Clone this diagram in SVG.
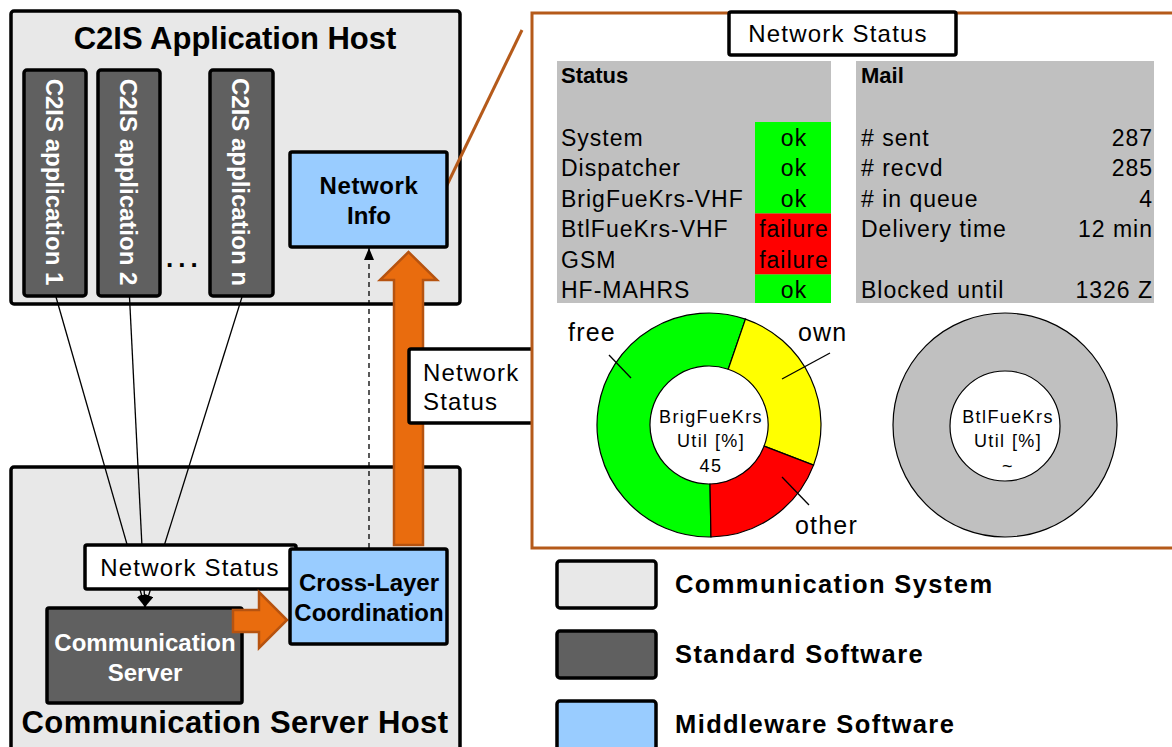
<svg xmlns="http://www.w3.org/2000/svg" width="1172" height="747" viewBox="0 0 1172 747">
  <style>
    text { font-family: "Liberation Sans", Arial, sans-serif; fill: #000; }
    .host { fill: #E8E8E8; stroke: #000; stroke-width: 3.5; }
    .std { fill: #606060; stroke: #000; stroke-width: 3.5; }
    .mid { fill: #99CCFF; stroke: #000; stroke-width: 3.5; }
    .note { fill: #FFFFFF; stroke: #000; stroke-width: 3.5; }
    .hostTitle { font-size: 31px; font-weight: bold; text-anchor: middle; }
    .appLabel { font-size: 24px; font-weight: bold; fill: #FFFFFF; text-anchor: middle; }
    .boxLabel { font-size: 24px; font-weight: bold; text-anchor: middle; }
    .boxLabelW { font-size: 24px; font-weight: bold; text-anchor: middle; fill: #FFFFFF; }
    .noteText { font-size: 24px; letter-spacing: 1.2px; }
    .cell { font-size: 23px; letter-spacing: 1px; }
    .cellHead { font-size: 22px; font-weight: bold; }
    .chartLbl { font-size: 25px; letter-spacing: 1.2px; }
    .hub { font-size: 18px; letter-spacing: 1.4px; text-anchor: middle; }
    .legend { font-size: 25.5px; font-weight: bold; letter-spacing: 1.4px; }
    .bigArrow { fill: #E96C0E; stroke: #B65310; stroke-width: 2.5; }
    .seg { stroke: #000; stroke-width: 1.2; }
    .leader { stroke: #000; stroke-width: 1.3; fill: none; }
  </style>
  <defs>
    <marker id="tri" viewBox="0 0 12 10" refX="12" refY="5" markerWidth="12" markerHeight="10" markerUnits="userSpaceOnUse" orient="auto">
      <path d="M0,0 L12,5 L0,10 Z" fill="#000"/>
    </marker>
  </defs>

  <!-- host frames -->
  <g id="appHost">
    <rect class="host" x="11" y="11" width="449" height="293" rx="3"/>
    <text class="hostTitle" x="235" y="49">C2IS Application Host</text>
  </g>
  <g id="serverHost">
    <rect class="host" x="11" y="467" width="449" height="290" rx="3"/>
    <text class="hostTitle" x="235" y="733" style="letter-spacing:0.4px">Communication Server Host</text>
  </g>

  <!-- application columns -->
  <g id="app1">
    <rect class="std" x="24" y="70" width="62" height="226" rx="3"/>
    <text class="appLabel" transform="translate(46,182) rotate(90)">C2IS application 1</text>
  </g>
  <g id="app2">
    <rect class="std" x="98" y="70" width="62" height="226" rx="3"/>
    <text class="appLabel" transform="translate(120,182) rotate(90)">C2IS application 2</text>
  </g>
  <g id="ellipsis">
    <text x="166" y="267" style="font-size:26px;font-weight:bold;letter-spacing:5px">...</text>
  </g>
  <g id="appN">
    <rect class="std" x="210" y="70" width="63" height="226" rx="3"/>
    <text class="appLabel" transform="translate(232,182) rotate(90)">C2IS application n</text>
  </g>

  <!-- connectors -->
  <g id="connectors">
    <line class="leader" x1="56" y1="297" x2="145" y2="607" marker-end="url(#tri)"/>
    <line class="leader" x1="129.5" y1="297" x2="145" y2="607" marker-end="url(#tri)"/>
    <line class="leader" x1="242" y1="297" x2="145" y2="607" marker-end="url(#tri)"/>
    <line x1="369" y1="548" x2="369" y2="248" stroke="#000" stroke-width="1.3" stroke-dasharray="5,4" marker-end="url(#tri)"/>
    <!-- wide status flow, cross-layer up to network info -->
    <path class="bigArrow" d="M394,545 L394,280 L380,280 L408.5,252 L437,280 L423,280 L423,545 Z"/>
    <!-- callout leader from network info to the status panel -->
    <line x1="433" y1="214" x2="522" y2="30" stroke="#B55A1A" stroke-width="3"/>
  </g>

  <g id="networkInfo">
    <rect class="mid" x="290" y="152" width="157" height="95" rx="2"/>
    <text class="boxLabel" x="369" y="194" style="letter-spacing:0.6px">Network</text>
    <text class="boxLabel" x="369" y="224">Info</text>
  </g>

  <g id="statusNoteMid">
    <rect class="note" x="409" y="349" width="124" height="74" rx="2"/>
    <text class="noteText" x="423" y="381">Network</text>
    <text class="noteText" x="423" y="410">Status</text>
  </g>

  <g id="statusNoteLow">
    <rect class="note" x="85" y="545" width="211" height="44" rx="2"/>
    <text class="noteText" x="190" y="576" text-anchor="middle">Network Status</text>
  </g>

  <g id="commServer">
    <rect class="std" x="47" y="608" width="195" height="95" rx="2"/>
    <text class="boxLabelW" x="145" y="651">Communication</text>
    <text class="boxLabelW" x="145" y="681">Server</text>
  </g>

  <!-- server hands its status on to the cross-layer block -->
  <g id="serverArrow">
    <path class="bigArrow" d="M233,610 L259,610 L259,592 L287,620 L259,648 L259,632 L233,632 Z"/>
  </g>

  <g id="crossLayer">
    <rect class="mid" x="290" y="549" width="157" height="95" rx="2"/>
    <text class="boxLabel" x="369" y="591">Cross-Layer</text>
    <text class="boxLabel" x="369" y="621">Coordination</text>
  </g>

  <!-- status panel -->
  <g id="statusPanel">
    <rect x="532" y="13" width="660" height="535" fill="#FFFFFF" stroke="#B55A1A" stroke-width="3"/>

    <rect x="557" y="61" width="274" height="242" fill="#C0C0C0"/>
    <rect x="755" y="122" width="76" height="91.5" fill="#00FF00"/>
    <rect x="755" y="213.5" width="76" height="61" fill="#FF0000"/>
    <rect x="755" y="274.5" width="76" height="28.5" fill="#00FF00"/>
    <text class="cellHead" x="561" y="83">Status</text>
    <text class="cell" x="561" y="145.5">System</text>
    <text class="cell" x="561" y="176">Dispatcher</text>
    <text class="cell" x="561" y="206.5">BrigFueKrs-VHF</text>
    <text class="cell" x="561" y="237">BtlFueKrs-VHF</text>
    <text class="cell" x="561" y="267.5">GSM</text>
    <text class="cell" x="561" y="298">HF-MAHRS</text>
    <g text-anchor="middle">
      <text class="cell" x="794" y="145.5">ok</text>
      <text class="cell" x="794" y="176">ok</text>
      <text class="cell" x="794" y="206.5">ok</text>
      <text class="cell" x="794" y="237">failure</text>
      <text class="cell" x="794" y="267.5">failure</text>
      <text class="cell" x="794" y="298">ok</text>
    </g>

    <rect x="856" y="61" width="298" height="242" fill="#C0C0C0"/>
    <text class="cellHead" x="861" y="83">Mail</text>
    <text class="cell" x="861" y="145.5"># sent</text>
    <text class="cell" x="861" y="176"># recvd</text>
    <text class="cell" x="861" y="206.5"># in queue</text>
    <text class="cell" x="861" y="237">Delivery time</text>
    <text class="cell" x="861" y="298">Blocked until</text>
    <g text-anchor="end">
      <text class="cell" x="1153" y="145.5">287</text>
      <text class="cell" x="1153" y="176">285</text>
      <text class="cell" x="1153" y="206.5">4</text>
      <text class="cell" x="1153" y="237">12 min</text>
      <text class="cell" x="1153" y="298">1326 Z</text>
    </g>
  </g>

  <g id="statusTitle">
    <rect class="note" x="729" y="12" width="227" height="43" rx="2"/>
    <text class="noteText" x="838" y="42" text-anchor="middle">Network Status</text>
  </g>

  <!-- utilisation ring, BrigFueKrs -->
  <g id="ringBrig">
    <path class="seg" fill="#00FF00" d="M710.95,536.98 A112,112 0 1 1 745.46,319.10 L728.21,369.22 A59,59 0 1 0 710.03,483.99 Z"/>
    <path class="seg" fill="#FFFF00" d="M745.46,319.10 A112,112 0 0 1 813.56,465.14 L764.08,446.15 A59,59 0 0 0 728.21,369.22 Z"/>
    <path class="seg" fill="#FF0000" d="M813.56,465.14 A112,112 0 0 1 710.95,536.98 L710.03,483.99 A59,59 0 0 0 764.08,446.15 Z"/>
    <line class="leader" x1="609" y1="355" x2="631" y2="378"/>
    <line class="leader" x1="830" y1="353" x2="782" y2="379"/>
    <line class="leader" x1="782" y1="477" x2="809" y2="505"/>
    <text class="chartLbl" x="568" y="341">free</text>
    <text class="chartLbl" x="798" y="341">own</text>
    <text class="chartLbl" x="795" y="534">other</text>
    <text class="hub" x="711" y="423">BrigFueKrs</text>
    <text class="hub" x="711" y="447">Util [%]</text>
    <text class="hub" x="711" y="472">45</text>
  </g>

  <!-- utilisation ring, BtlFueKrs -->
  <g id="ringBtl">
    <path class="seg" fill="#C0C0C0" fill-rule="evenodd" d="M1117,425 A112,112 0 1 1 893,425 A112,112 0 1 1 1117,425 Z M1060,426 A55,55 0 1 0 950,426 A55,55 0 1 0 1060,426 Z"/>
    <text class="hub" x="1008" y="423">BtlFueKrs</text>
    <text class="hub" x="1008" y="447">Util [%]</text>
    <text class="hub" x="1008" y="472">~</text>
  </g>

  <!-- legend -->
  <g id="legendSystem">
    <rect class="host" x="557" y="561" width="99" height="47" rx="3"/>
    <text class="legend" x="675" y="593">Communication System</text>
  </g>
  <g id="legendStandard">
    <rect class="std" x="557" y="631" width="99" height="47" rx="3"/>
    <text class="legend" x="675" y="663">Standard Software</text>
  </g>
  <g id="legendMiddleware">
    <rect class="mid" x="557" y="701" width="99" height="50" rx="3"/>
    <text class="legend" x="675" y="733">Middleware Software</text>
  </g>
</svg>
